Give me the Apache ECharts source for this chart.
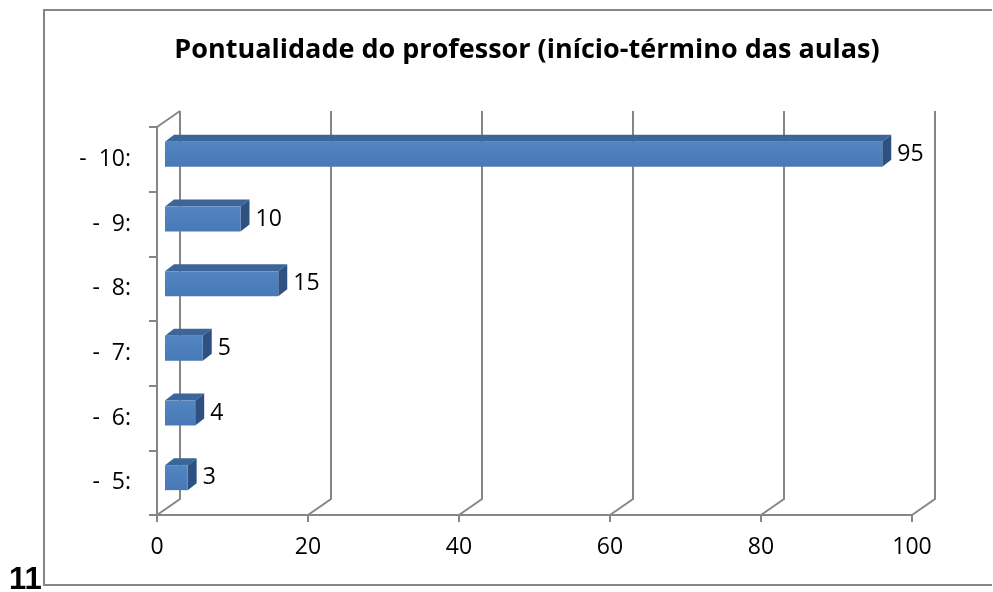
<!DOCTYPE html>
<html>
<head>
<meta charset="utf-8">
<script src="https://cdn.jsdelivr.net/npm/echarts@6/dist/echarts.min.js"></script>
<style>
  html, body { margin: 0; padding: 0; background: #ffffff; }
  #chart { width: 993px; height: 592px; }
</style>
</head>
<body>
<div id="chart"></div>
<script>
// Chart data
const categories = ['-  5:', '-  6:', '-  7:', '-  8:', '-  9:', '-  10:'];
const values = [3, 4, 5, 15, 10, 95];
const xTicks = [0, 20, 40, 60, 80, 100];
const titleText = 'Pontualidade do professor (início-término das aulas)';
const pageNumber = '11';

// 3D look: depth of the walls and of the bars (pixels)
const WALL_DX = 23, WALL_DY = -16;
const BAR_FX = 8, BAR_FY = -5;     // front face pushed into the box
const BAR_DX = 9, BAR_DY = -7;     // bar thickness
const BAR_RATIO = 0.386;           // bar height / category band
const GRID_COLOR = '#868686';
const FONT = '"Open Sans", "Noto Sans", sans-serif';
const LABEL_SIZE = 23;

const chart = echarts.init(document.getElementById('chart'), null, { renderer: 'canvas' });

function wallItem(params, api) {
  const v = api.value(0);
  const band = api.size([0, 1])[1];
  const p0 = api.coord([v, 0]);
  const pTop = api.coord([v, categories.length - 1]);
  const x = p0[0];
  const yBottom = p0[1] + band / 2;
  const yTop = pTop[1] - band / 2;
  const style = { stroke: GRID_COLOR, lineWidth: 2, fill: null };
  const children = [{
    type: 'polyline',
    shape: { points: [[x, yBottom], [x + WALL_DX, yBottom + WALL_DY], [x + WALL_DX, yTop + WALL_DY]] },
    style: style
  }];
  if (params.dataIndex === 0) {
    children.push({
      type: 'line',
      shape: { x1: x, y1: yTop, x2: x + WALL_DX, y2: yTop + WALL_DY },
      style: style
    });
  }
  return { type: 'group', children: children };
}

function barItem(params, api) {
  const v = api.value(0);
  const i = api.value(1);
  const band = api.size([0, 1])[1];
  const start = api.coord([0, i]);
  const end = api.coord([v, i]);
  const h = band * BAR_RATIO;
  const x0 = start[0] + BAR_FX;
  const x1 = end[0] + BAR_FX;
  const yc = start[1] + BAR_FY;
  const y0 = yc - h / 2;
  const y1 = yc + h / 2;
  return {
    type: 'group',
    children: [
      {
        type: 'polygon',
        shape: { points: [[x0, y0], [x0 + BAR_DX, y0 + BAR_DY], [x1 + BAR_DX, y0 + BAR_DY], [x1, y0]] },
        style: { fill: '#3c659a' }
      },
      {
        type: 'polygon',
        shape: { points: [[x1, y0], [x1 + BAR_DX, y0 + BAR_DY], [x1 + BAR_DX, y1 + BAR_DY], [x1, y1]] },
        style: { fill: '#2e5181' }
      },
      {
        type: 'rect',
        shape: { x: x0, y: y0, width: x1 - x0, height: h },
        style: {
          fill: new echarts.graphic.LinearGradient(0, 0, 0, 1, [
            { offset: 0, color: '#5385c3' },
            { offset: 1, color: '#4879b6' }
          ])
        }
      },
      {
        type: 'text',
        x: x1 + BAR_DX + 6,
        y: yc,
        style: {
          text: String(v),
          fill: '#000000',
          font: LABEL_SIZE + 'px ' + FONT,
          verticalAlign: 'middle',
          align: 'left'
        }
      }
    ]
  };
}

chart.setOption({
  animation: false,
  backgroundColor: '#ffffff',
  grid: { left: 157, right: 81, top: 127, bottom: 77, containLabel: false },
  xAxis: {
    type: 'value',
    min: 0,
    max: 100,
    interval: 20,
    axisLine: { show: true, lineStyle: { color: GRID_COLOR, width: 2 } },
    axisTick: { show: true, length: 7, lineStyle: { color: GRID_COLOR, width: 2 } },
    splitLine: { show: false },
    axisLabel: { color: '#000000', fontSize: LABEL_SIZE, fontFamily: FONT, margin: 21 }
  },
  yAxis: {
    type: 'category',
    data: categories,
    axisLine: { show: true, lineStyle: { color: GRID_COLOR, width: 2 } },
    axisTick: { show: true, length: 8, lineStyle: { color: GRID_COLOR, width: 2 } },
    splitLine: { show: false },
    axisLabel: { color: '#000000', fontSize: LABEL_SIZE, fontFamily: FONT, margin: 26 }
  },
  graphic: [
    {
      type: 'polyline',
      shape: { points: [[992, 10], [44, 10], [44, 585], [992, 585]] },
      style: { stroke: GRID_COLOR, lineWidth: 2, fill: null },
      silent: true
    },
    {
      type: 'text',
      x: 527,
      y: 50,
      style: {
        text: titleText,
        fill: '#000000',
        font: 'bold 27px ' + FONT,
        align: 'center',
        verticalAlign: 'middle'
      }
    },
    {
      type: 'text',
      x: 9,
      y: 580,
      style: {
        text: pageNumber,
        fill: '#000000',
        font: 'bold 31px "Liberation Sans", Arial, sans-serif',
        align: 'left',
        verticalAlign: 'middle'
      }
    }
  ],
  series: [
    {
      type: 'custom',
      name: 'walls',
      silent: true,
      clip: false,
      z: 1,
      encode: { x: 0, y: 1 },
      data: xTicks.map(function (v) { return [v, 0]; }),
      renderItem: wallItem
    },
    {
      type: 'custom',
      name: 'bars',
      clip: false,
      z: 3,
      encode: { x: 0, y: 1 },
      data: values.map(function (v, i) { return [v, i]; }),
      renderItem: barItem
    }
  ]
});
</script>
</body>
</html>
